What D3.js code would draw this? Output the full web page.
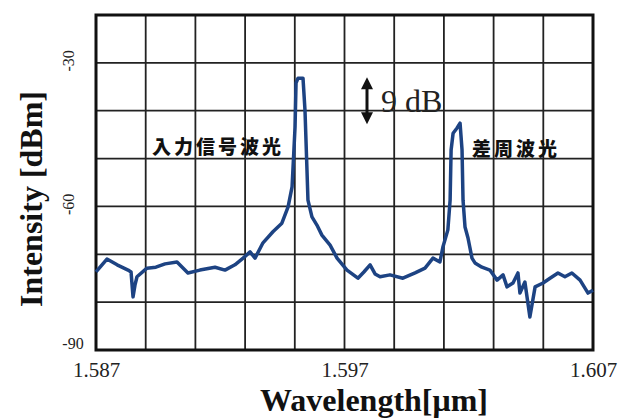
<!DOCTYPE html>
<html><head><meta charset="utf-8">
<script src="https://cdn.jsdelivr.net/npm/d3@7/dist/d3.min.js"></script>
<style>body{margin:0;background:#fff;} svg{display:block;}</style>
</head><body>
<svg id="c" width="625" height="419"></svg>
<script>
const wavelength = [1.58700,1.58744,1.58785,1.58829,1.58841,1.58849,1.58857,1.58865,1.58905,1.58941,1.58978,1.59026,1.59070,1.59118,1.59179,1.59219,1.59259,1.59292,1.59320,1.59340,1.59372,1.59412,1.59448,1.59473,1.59489,1.59501,1.59505,1.59513,1.59533,1.59541,1.59549,1.59553,1.59569,1.59589,1.59609,1.59642,1.59670,1.59710,1.59754,1.59778,1.59803,1.59823,1.59843,1.59883,1.59935,1.59984,1.60024,1.60056,1.60084,1.60096,1.60116,1.60125,1.60129,1.60137,1.60153,1.60165,1.60173,1.60177,1.60185,1.60197,1.60213,1.60225,1.60253,1.60285,1.60314,1.60338,1.60354,1.60378,1.60398,1.60406,1.60426,1.60446,1.60467,1.60499,1.60527,1.60559,1.60587,1.60615,1.60648,1.60680,1.60700];
const intensity = [-73.7,-71.0,-72.2,-73.3,-73.7,-78.9,-76.4,-74.7,-72.9,-72.7,-72.0,-71.6,-73.9,-73.3,-72.7,-73.3,-72.2,-70.8,-69.5,-70.8,-67.6,-65.3,-63.5,-60.1,-55.9,-43.4,-34.2,-33.2,-33.2,-39.9,-52.4,-58.7,-62.2,-63.9,-66.0,-68.1,-70.8,-73.3,-75.0,-73.7,-72.2,-74.1,-74.7,-74.3,-75.0,-73.9,-72.9,-70.8,-71.6,-68.5,-64.9,-58.7,-48.2,-44.7,-43.6,-42.6,-48.2,-58.7,-64.3,-66.6,-70.8,-71.8,-72.7,-73.3,-75.4,-74.3,-76.8,-76.0,-73.9,-78.1,-75.8,-83.1,-76.8,-76.0,-75.0,-73.9,-74.7,-73.9,-75.4,-78.1,-77.5];
const xGrid = [1.587,1.589,1.591,1.593,1.595,1.597,1.599,1.601,1.603,1.605,1.607];
const yGrid = [-90,-80,-70,-60,-50,-40,-30,-20];
const xTickLabels = [1.587,1.597,1.607];
const yTickLabels = [-30,-60,-90];
const labels = [{text:"入力信号波光", x:1.58925, y:-47.6},{text:"差周波光", x:1.60213, y:-48.0}];
const arrowRange = [-33.2,-42.6];

const svg = d3.select("#c");
const L=96,T=15,R=593,B=350;
const x = d3.scaleLinear().domain([1.587,1.607]).range([L,R]);
const y = d3.scaleLinear().domain([-90,-20]).range([B,T]);
const serif = "'Liberation Serif','Times New Roman',serif";

// grid
svg.append("g").selectAll("line").data(xGrid).join("line")
  .attr("x1",d=>x(d)).attr("x2",d=>x(d)).attr("y1",T).attr("y2",B)
  .attr("stroke","#222").attr("stroke-width",1.8);
svg.append("g").selectAll("line").data(yGrid).join("line")
  .attr("x1",L).attr("x2",R).attr("y1",d=>y(d)).attr("y2",d=>y(d))
  .attr("stroke","#222").attr("stroke-width",1.8);
// frame
svg.append("rect").attr("x",L).attr("y",T).attr("width",R-L).attr("height",B-T)
  .attr("fill","none").attr("stroke","#111").attr("stroke-width",3);

// x axis labels
const xa = svg.append("g").attr("transform",`translate(0,${B})`)
  .call(d3.axisBottom(x).tickValues(xTickLabels).tickSize(0).tickPadding(12).tickFormat(d3.format(".3f")));
xa.select(".domain").remove();
xa.selectAll("text").attr("font-family",serif).attr("font-size",21).attr("fill","#222");

// y labels
svg.append("g").selectAll("text").data(yTickLabels).join("text")
  .attr("font-family",serif).attr("font-size",16).attr("fill","#222")
  .attr("text-anchor","middle")
  .attr("transform",d=> d===-90 ? `translate(73,${y(d)-7})` : `translate(68,${y(d)-2}) rotate(-90)`)
  .attr("dy","0.35em")
  .text(d=>d);

// titles
svg.append("text").attr("x",374).attr("y",411).attr("text-anchor","middle")
  .attr("font-family",serif).attr("font-weight","bold").attr("font-size",32).attr("fill","#111")
  .text("Wavelength[μm]");
svg.append("text").attr("transform","translate(42,199) rotate(-90)").attr("text-anchor","middle")
  .attr("font-family",serif).attr("font-weight","bold").attr("font-size",32).attr("fill","#111")
  .text("Intensity [dBm]");

// line
const line = d3.line().x((d,i)=>x(wavelength[i])).y(d=>y(d));
svg.append("path").datum(intensity).attr("d",line).attr("fill","none")
  .attr("stroke","#1d4383").attr("stroke-width",3.5).attr("stroke-linejoin","round");

// annotations
svg.append("g").selectAll("text").data(labels).join("text")
  .attr("x",d=>x(d.x)).attr("y",d=>y(d.y)).attr("dy","0.35em")
  .attr("font-family","'Noto Sans CJK JP',sans-serif").attr("font-weight","900")
  .attr("font-size",19).attr("letter-spacing",3).attr("fill","#111").text(d=>d.text);

// arrow
const ax = 367, ay1 = y(arrowRange[0])-1, ay2 = y(arrowRange[1])+1;
svg.append("line").attr("x1",ax).attr("x2",ax).attr("y1",ay1+8).attr("y2",ay2-8).attr("stroke","#111").attr("stroke-width",3);
svg.append("path").attr("d",`M${ax},${ay1} L${ax-6},${ay1+12} L${ax+6},${ay1+12}Z`).attr("fill","#111");
svg.append("path").attr("d",`M${ax},${ay2} L${ax-6},${ay2-12} L${ax+6},${ay2-12}Z`).attr("fill","#111");
svg.append("text").attr("x",381).attr("y",112).attr("font-family",serif).attr("font-size",32).attr("fill","#222").text("9 dB");
</script>
</body></html>
